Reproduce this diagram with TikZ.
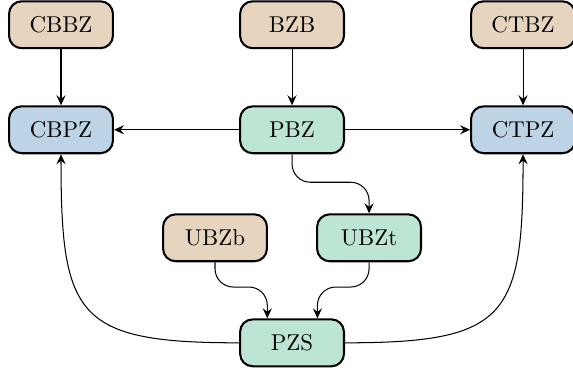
\documentclass[tikz,border=0pt]{standalone}
\usepackage{tikz}
\usetikzlibrary{arrows.meta}
\definecolor{zbtan}{RGB}{230,212,191}
\definecolor{zbblue}{RGB}{189,212,230}
\definecolor{zbgreen}{RGB}{188,229,211}
\tikzset{
    zone/.style={draw=black, line width=0.9pt, rounded corners=5.5pt,
        minimum width=45.4pt, minimum height=20.5pt, inner sep=0pt},
    arr/.style={-{Stealth[length=4.4pt,width=4pt,inset=1.6pt]}, line width=0.45pt}
}
\begin{document}
\begin{tikzpicture}
    \useasboundingbox (0,0) rectangle (8.80,5.71);
    % obere Reihe
    \node[zone, fill=zbtan] (cbbz) at (0.937,5.330) {CBBZ};
    \node[zone, fill=zbtan] (bzb) at (4.485,5.330) {BZB};
    \node[zone, fill=zbtan] (ctbz) at (8.033,5.330) {CTBZ};
    % mittlere Reihe
    \node[zone, fill=zbblue] (cbpz) at (0.937,3.717) {CBPZ};
    \node[zone, fill=zbgreen] (pbz) at (4.485,3.717) {PBZ};
    \node[zone, fill=zbblue] (ctpz) at (8.033,3.717) {CTPZ};
    % untere Reihe
    \node[zone, fill=zbtan] (ubzb) at (3.302,2.058) {UBZb};
    \node[zone, fill=zbgreen] (ubzt) at (5.668,2.058) {UBZt};
    \node[zone, fill=zbgreen] (pzs) at (4.485,0.445) {PZS};

    \draw[arr] (cbbz) -- (cbpz);
    \draw[arr] (bzb) -- (pbz);
    \draw[arr] (ctbz) -- (ctpz);
    \draw[arr] (pbz) -- (cbpz);
    \draw[arr] (pbz) -- (ctpz);
    \draw[arr, rounded corners=8pt] (pbz.south) -- ++(0,-0.43) -| (ubzt.north);
    \draw[arr, rounded corners=8pt] (ubzb.south) -- ++(0,-0.38) -| ([xshift=-0.38cm]pzs.north);
    \draw[arr, rounded corners=8pt] (ubzt.south) -- ++(0,-0.38) -| ([xshift=0.39cm]pzs.north);
    \draw[arr] (pzs.west) to[out=180,in=-90,looseness=1.6] (cbpz.south);
    \draw[arr] (pzs.east) to[out=0,in=-90,looseness=1.6] (ctpz.south);
\end{tikzpicture}
\end{document}
